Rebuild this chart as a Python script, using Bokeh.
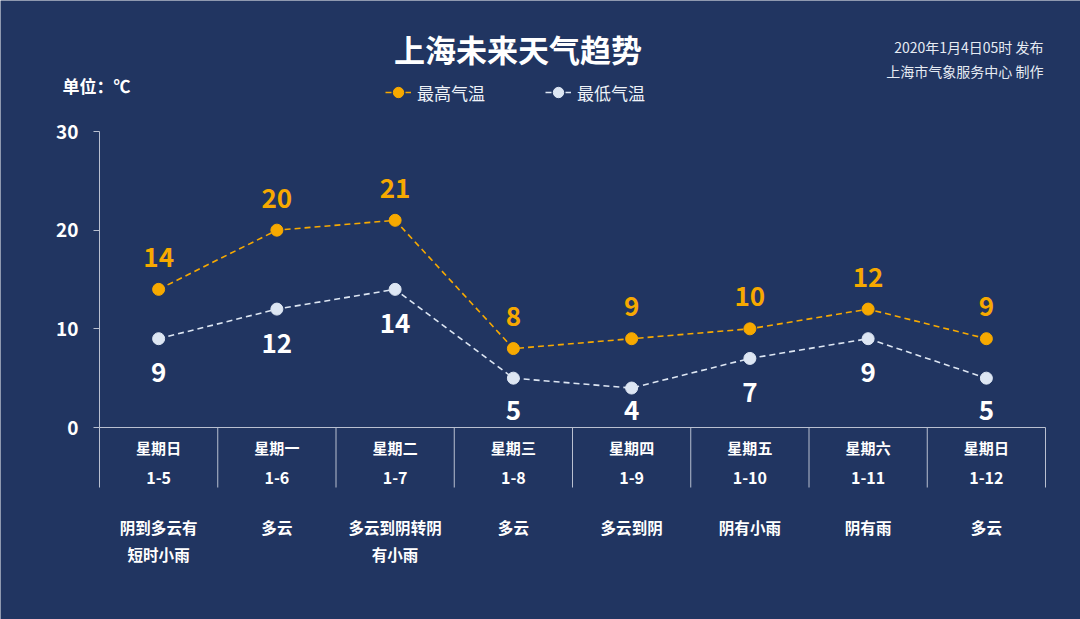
from bokeh.plotting import figure
from bokeh.models import Range1d, FixedTicker, Label, Legend, LegendItem, ColumnDataSource
from bokeh.core.properties import value
from bokeh.embed import file_html
from bokeh.resources import INLINE

# ---------------- data ----------------
weekdays = ["星期日", "星期一", "星期二", "星期三", "星期四", "星期五", "星期六", "星期日"]
dates = ["1-5", "1-6", "1-7", "1-8", "1-9", "1-10", "1-11", "1-12"]
weather = ["阴到多云有\n短时小雨", "多云", "多云到阴转阴\n有小雨", "多云",
           "多云到阴", "阴有小雨", "阴有雨", "多云"]
high = [14, 20, 21, 8, 9, 10, 12, 9]
low = [9, 12, 14, 5, 4, 7, 9, 5]
y_ticks = [0, 10, 20, 30]

# ---------------- style / layout ----------------
BG = "#213561"
HIGH_C = "#f7a900"
LOW_C = "#dde6f3"
AXIS_C = "#b9c0d0"
FONT = "Noto Sans CJK SC"

W, H = 1080, 619
X0_PX = 99            # pixel of the left edge of the first category
BAND = 118.25         # pixel width of one category
Y0_PX, Y30_PX = 427, 131
PPU_Y = (Y0_PX - Y30_PX) / 30.0
LOW_LABEL_GAP = 34    # px below the point
LOW_LABEL_MAX = 410   # labels kept above the category axis


def fx(px):
    return (px - X0_PX) / BAND


def fy(py):
    return (Y0_PX - py) / PPU_Y


p = figure(width=W, height=H, output_backend="svg", toolbar_location=None,
           x_axis_location=None,
           x_range=Range1d(fx(0), fx(W)), y_range=Range1d(fy(H), fy(0)),
           min_border_left=0, min_border_right=0, min_border_top=0, min_border_bottom=0,
           background_fill_color=BG, border_fill_color=BG, outline_line_color=None)
p.grid.grid_line_color = None

ax = p.yaxis[0]
ax.fixed_location = 0
ax.ticker = FixedTicker(ticks=y_ticks)
ax.bounds = (min(y_ticks), max(y_ticks))
ax.axis_line_color = AXIS_C
ax.axis_line_width = 1
ax.major_tick_line_color = AXIS_C
ax.major_tick_out = 6
ax.major_tick_in = 0
ax.minor_tick_line_color = None
ax.major_label_text_color = "white"
ax.major_label_text_font = FONT
ax.major_label_text_font_size = "19px"
ax.major_label_text_font_style = "bold"
ax.major_label_standoff = 15

n = len(dates)
xc = [i + 0.5 for i in range(n)]
edges = list(range(n + 1))

# category axis line and separators
p.segment(x0=[edges[0]], y0=[0], x1=[edges[-1]], y1=[0], line_color=AXIS_C, line_width=1)
p.segment(x0=edges, y0=[0] * len(edges), x1=edges, y1=[fy(Y0_PX + 60)] * len(edges),
          line_color=AXIS_C, line_width=1)

# low labels sit below their points but never drop onto the axis
low_label_y = [fy(min(Y0_PX - v * PPU_Y + LOW_LABEL_GAP, LOW_LABEL_MAX)) for v in low]

src = ColumnDataSource(dict(x=xc, high=high, low=low, low_ly=low_label_y,
                            high_s=[str(v) for v in high], low_s=[str(v) for v in low],
                            wd=weekdays, dt=dates, wx=weather))

r_hl = p.line("x", "high", source=src, line_color=HIGH_C, line_width=1.6, line_dash="6 4")
r_hs = p.scatter("x", "high", source=src, size=12, fill_color=HIGH_C, line_color=HIGH_C)
r_ll = p.line("x", "low", source=src, line_color=LOW_C, line_width=1.6, line_dash="6 4")
r_ls = p.scatter("x", "low", source=src, size=12, fill_color=LOW_C, line_color=LOW_C)

p.text("x", "high", text="high_s", source=src, y_offset=-32, text_align="center",
       text_baseline="middle", text_font=value(FONT), text_font_size="26px",
       text_font_style="bold", text_color=HIGH_C)
p.text("x", "low_ly", text="low_s", source=src, text_align="center",
       text_baseline="middle", text_font=value(FONT), text_font_size="26px",
       text_font_style="bold", text_color="white")

# category labels
p.text("x", fy(447), text="wd", source=src, text_align="center", text_baseline="middle",
       text_font=value(FONT), text_font_size="15px", text_font_style="bold", text_color="white")
p.text("x", fy(477), text="dt", source=src, text_align="center", text_baseline="middle",
       text_font=value(FONT), text_font_size="16px", text_font_style="bold", text_color="white")
p.text("x", fy(515), text="wx", source=src, text_align="center", text_baseline="top",
       text_font=value(FONT), text_font_size="15.5px", text_font_style="bold", text_color="white",
       text_line_height=1.25)

# legend
legend = Legend(items=[LegendItem(label="最高气温", renderers=[r_hl, r_hs]),
                       LegendItem(label="最低气温", renderers=[r_ll, r_ls])],
                orientation="horizontal", location=(385, H - 92 - 13),
                background_fill_alpha=0, border_line_alpha=0, padding=0, margin=0,
                glyph_width=26, glyph_height=26, label_standoff=6, spacing=60,
                label_text_color="#eef2f8", label_text_font=FONT, label_text_font_size="17px",
                label_height=26)
p.add_layout(legend)

# titles / notes
p.add_layout(Label(x=fx(517.5), y=fy(48), text="上海未来天气趋势", text_align="center",
                   text_baseline="middle", text_font=FONT, text_font_size="31px",
                   text_font_style="bold", text_color="white"))
p.add_layout(Label(x=fx(1043), y=fy(46), text="2020年1月4日05时 发布", text_align="right",
                   text_baseline="middle", text_font=FONT, text_font_size="14px",
                   text_color="#e6ebf3"))
p.add_layout(Label(x=fx(1043), y=fy(70), text="上海市气象服务中心 制作", text_align="right",
                   text_baseline="middle", text_font=FONT, text_font_size="14px",
                   text_color="#e6ebf3"))
p.add_layout(Label(x=fx(62), y=fy(85), text="单位：℃", text_align="left",
                   text_baseline="middle", text_font=FONT, text_font_size="17px",
                   text_font_style="bold", text_color="white"))

html = file_html(p, INLINE)
html = html.replace("<body>", '<body style="background-color:%s;">' % BG, 1)
open("out.html", "w").write(html)
